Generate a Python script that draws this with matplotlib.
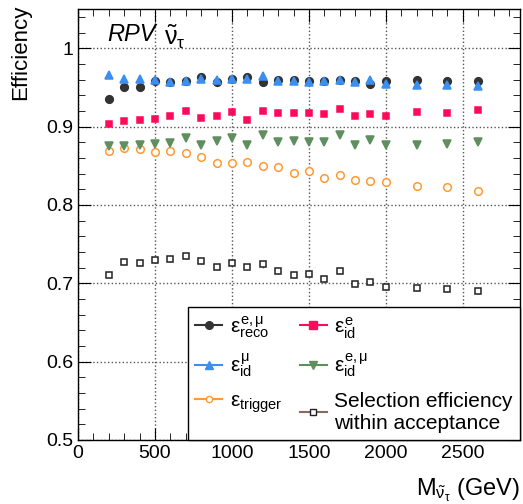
import matplotlib
matplotlib.use("Agg")
import matplotlib.pyplot as plt
import numpy as np

plt.rcParams["font.family"] = ["Liberation Sans", "DejaVu Sans"]
plt.rcParams["mathtext.fontset"] = "custom"
plt.rcParams["mathtext.rm"] = "Liberation Sans"
plt.rcParams["mathtext.it"] = "Liberation Sans"
plt.rcParams["mathtext.bf"] = "Liberation Sans:bold"

# sneutrino mass points (GeV)
mass = [200, 300, 400, 500, 600, 700, 800, 900, 1000, 1100, 1200, 1300, 1400,
        1500, 1600, 1700, 1800, 1900, 2000, 2200, 2400, 2600]

eff_reco = [0.935, 0.950, 0.950, 0.958, 0.957, 0.958, 0.963, 0.957, 0.961, 0.963,
            0.957, 0.959, 0.959, 0.958, 0.958, 0.960, 0.958, 0.955, 0.958, 0.960,
            0.958, 0.958]
eff_id_mu = [0.966, 0.961, 0.961, 0.960, 0.957, 0.958, 0.961, 0.959, 0.961, 0.961,
             0.964, 0.958, 0.958, 0.957, 0.958, 0.960, 0.957, 0.960, 0.955, 0.953,
             0.953, 0.952]
eff_id_e = [0.903, 0.907, 0.908, 0.910, 0.914, 0.920, 0.911, 0.914, 0.918, 0.909,
            0.920, 0.917, 0.917, 0.917, 0.916, 0.923, 0.914, 0.916, 0.914, 0.918,
            0.917, 0.921]
eff_id_emu = [0.875, 0.875, 0.876, 0.878, 0.879, 0.886, 0.877, 0.882, 0.886, 0.876,
              0.889, 0.880, 0.881, 0.880, 0.880, 0.889, 0.876, 0.883, 0.876, 0.877,
              0.878, 0.880]
eff_trigger = [0.869, 0.873, 0.871, 0.868, 0.869, 0.866, 0.861, 0.853, 0.853, 0.855,
               0.850, 0.848, 0.841, 0.843, 0.835, 0.838, 0.832, 0.831, 0.829, 0.824,
               0.823, 0.818]
eff_sel = [0.711, 0.727, 0.726, 0.730, 0.731, 0.735, 0.728, 0.721, 0.726, 0.721,
           0.724, 0.716, 0.711, 0.712, 0.705, 0.716, 0.699, 0.702, 0.695, 0.694,
           0.693, 0.690]
err_sel = 0.004
err_small = 0.002

# order chosen so the 2-column legend reads row by row like the original
series = [
    (eff_reco, r"$\varepsilon^{e,\mu}_{reco}$", "o", "#333333", True, err_small, "#333333"),
    (eff_id_mu, r"$\varepsilon^{\mu}_{id}$", "^", "#3b8ff0", True, err_small, "#3b8ff0"),
    (eff_trigger, r"$\varepsilon_{trigger}$", "o", "#ff9933", False, err_small, "#ff9933"),
    (eff_id_e, r"$\varepsilon^{e}_{id}$", "s", "#ff0a5a", True, err_small, "#ff0a5a"),
    (eff_id_emu, r"$\varepsilon^{e,\mu}_{id}$", "v", "#5f8f5f", True, err_small, "#5f8f5f"),
    (eff_sel, "Selection efficiency\nwithin acceptance", "s", "#222222", False, err_sel, "#8a6a60"),
]

fig = plt.figure(figsize=(5.23, 5.04), dpi=100)
ax = fig.add_axes([0.149, 0.127, 0.845, 0.855])

handles = []
for vals, label, mk, col, filled, err, lc in series:
    ms = 5.5 if mk != "s" else (5 if filled else 4.5)
    ax.errorbar(mass, vals, yerr=err, fmt="none", ecolor=lc, elinewidth=1.0, zorder=2)
    ax.plot(mass, vals, linestyle="none", marker=mk, markersize=ms,
            markerfacecolor=col if filled else "white", markeredgecolor=col,
            markeredgewidth=1.1, zorder=3)
    h, = ax.plot([], [], color=lc, linewidth=1.5, marker=mk,
                 markersize=5.5 if filled else 4.5,
                 markerfacecolor=col if filled else "white", markeredgecolor=col,
                 label=label)
    handles.append(h)

ax.set_xlim(0, 2870)
ax.set_ylim(0.5, 1.05)
ax.set_xticks([0, 500, 1000, 1500, 2000, 2500])
ax.set_yticks([0.5, 0.6, 0.7, 0.8, 0.9, 1.0])
ax.set_yticklabels(["0.5", "0.6", "0.7", "0.8", "0.9", "1"])
ax.set_xticks(np.arange(0, 2870, 100), minor=True)
ax.set_yticks(np.arange(0.5, 1.05, 0.02), minor=True)
ax.tick_params(which="both", direction="in", top=True, right=True, labelsize=14)
ax.tick_params(which="major", length=9)
ax.tick_params(which="minor", length=5)
ax.grid(True, which="major", linestyle=":", color="#555555", linewidth=1.0)
for s in ax.spines.values():
    s.set_linewidth(1.0)

ax.set_ylabel("Efficiency", fontsize=16, loc="top")
ax.yaxis.set_label_coords(-0.105, 1.01)
ax.set_xlabel(r"M$_{\tilde{\nu}_{\tau}}$ (GeV)", fontsize=17, loc="right")
ax.xaxis.set_label_coords(1.0, -0.085)

ax.text(0.066, 0.94, "RPV", style="italic", fontsize=17, transform=ax.transAxes,
        va="center", ha="left")
ax.text(0.195, 0.935, r"$\tilde{\nu}_{\tau}$", fontsize=18, transform=ax.transAxes,
        va="center", ha="left")

leg = ax.legend(handles=handles, ncol=2, loc="lower left",
                bbox_to_anchor=(0.249, 0.0, 0.751, 0.313), mode="expand",
                fontsize=15, frameon=True, fancybox=False, edgecolor="black",
                framealpha=1, handlelength=1.3, labelspacing=0.55, columnspacing=0.4,
                handletextpad=0.35, borderpad=0.35, borderaxespad=0.0)
leg.get_frame().set_linewidth(1.0)

fig.savefig("out.png", dpi=100)
